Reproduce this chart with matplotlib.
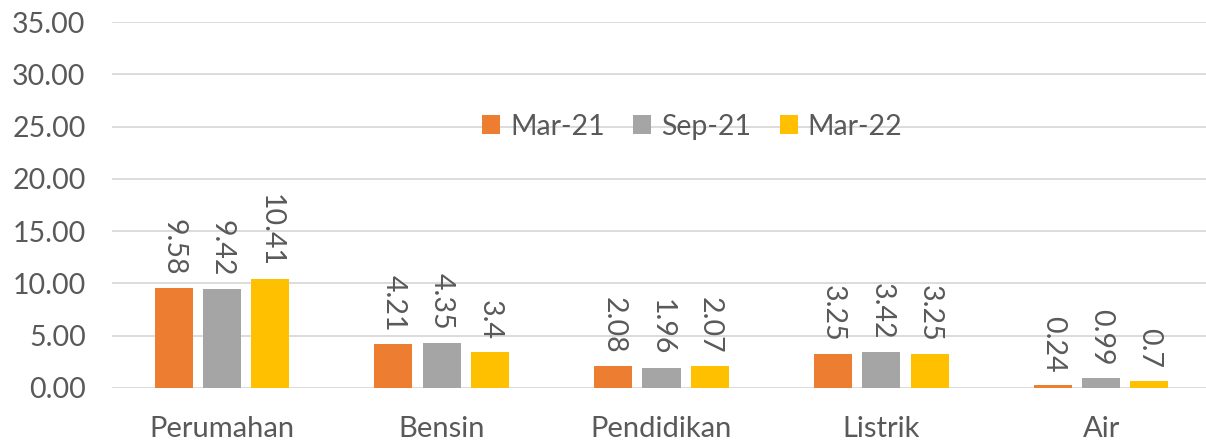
import matplotlib

matplotlib.use("Agg")
import matplotlib.pyplot as plt
import numpy as np

categories = ["Perumahan", "Bensin", "Pendidikan", "Listrik", "Air"]
series_names = ["Mar-21", "Sep-21", "Mar-22"]
mar21 = [9.58, 4.21, 2.08, 3.25, 0.24]
sep21 = [9.42, 4.35, 1.96, 3.42, 0.99]
mar22 = [10.41, 3.4, 2.07, 3.25, 0.7]
label_text = [
    ["9.58", "4.21", "2.08", "3.25", "0.24"],
    ["9.42", "4.35", "1.96", "3.42", "0.99"],
    ["10.41", "3.4", "2.07", "3.25", "0.7"],
]
yticks = [0, 5, 10, 15, 20, 25, 30, 35]

COLORS = ["#ED7D31", "#A5A5A5", "#FFC000"]
TEXT = "#595959"
FS = 20.5

plt.rcParams["font.family"] = ["Lato", "DejaVu Sans"]

fig = plt.figure(figsize=(12.06, 4.45), dpi=100)
ax = fig.add_axes([112 / 1206, 57 / 445, 1099 / 1206, 366 / 445])

x = np.arange(len(categories))
step, width = 0.22, 0.173
for i, (vals, name) in enumerate(zip([mar21, sep21, mar22], series_names)):
    pos = x + (i - 1) * step
    ax.bar(pos, vals, width, color=COLORS[i], label=name, zorder=2)
    for px, v, t in zip(pos, vals, label_text[i]):
        ax.annotate(t, (px, v), xytext=(0, 9), textcoords="offset points",
                    rotation=270, ha="center", va="bottom", fontsize=FS, color=TEXT)

ax.set_xlim(-0.5, len(categories) - 0.5)
ax.set_ylim(0, 35)
ax.set_yticks(yticks)
ax.set_yticklabels([f"{t:.2f}" for t in yticks])
ax.set_xticks(x)
ax.set_xticklabels(categories)
ax.tick_params(axis="both", length=0, labelsize=FS, colors=TEXT)
ax.tick_params(axis="x", labelsize=21, pad=20)
ax.tick_params(axis="y", pad=19)
ax.grid(axis="y", color="#D9D9D9", linewidth=1.3, zorder=0)
for s in ["top", "right", "left", "bottom"]:
    ax.spines[s].set_visible(False)
ax.set_axisbelow(True)

leg = ax.legend(loc="center", bbox_to_anchor=(0.528, 0.714), ncol=3, frameon=False,
                fontsize=FS, handlelength=0.63, handleheight=0.63, handletextpad=0.35,
                columnspacing=1.0)
for t in leg.get_texts():
    t.set_color(TEXT)

fig.savefig("out.png", dpi=100)
